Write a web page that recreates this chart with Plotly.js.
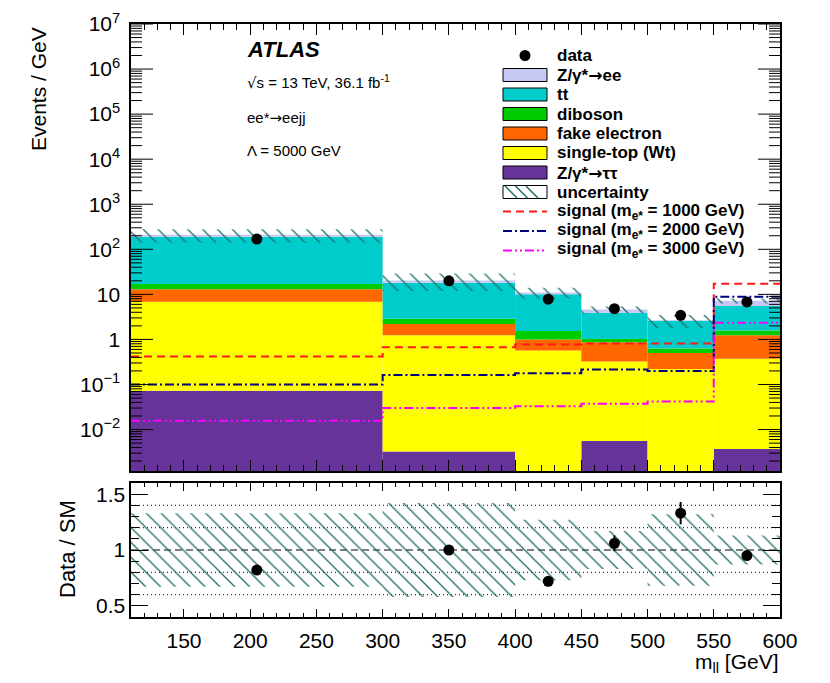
<!DOCTYPE html>
<html>
<head>
<meta charset="utf-8">
<script src="https://cdn.plot.ly/plotly-3.0.1.min.js"></script>
<style>
  body { margin: 0; background: #fff; }
  #plot { width: 830px; height: 683px; }
</style>
</head>
<body>
<div id="plot"></div>
<script>
// ── values (Events / GeV) ──────────────────────────────────────────────────
const binEdges  = [110, 300, 400, 450, 500, 550, 600];
const zTauTau   = [0.073, 0.00325, 0, 0.0056, 0, 0.0037];
const singleTop = [6.8, 1.23, 0.57, 0.32, 0.22, 0.37];
const fakeEl    = [6.1, 0.96, 0.43, 0.54, 0.28, 0.86];
const diboson   = [4.0, 0.69, 0.53, 0.16, 0.13, 0.35];
const ttbar     = [173, 15.3, 8.5, 2.87, 1.97, 3.92];
const zee       = [20, 2.2, 1.0, 0.7, 0.05, 1.7];
const relUnc    = [0.33, 0.42, 0.27, 0.17, 0.32, 0.13];

const dataY     = [169, 20, 7.8, 4.8, 3.43, 6.8];
const dataErr   = [1.0, 0.45, 0.4, 0.32, 0.27, 0.37];
const ratioY    = [0.82, 1.0, 0.72, 1.06, 1.33, 0.95];
const ratioErr  = [0.005, 0.01, 0.03, 0.07, 0.10, 0.04];

const sig1000   = [0.42, 0.67, 0.77, 0.81, 0.81, 17.3];
const sig2000   = [0.10, 0.163, 0.178, 0.215, 0.20, 8.9];
const sig3000   = [0.0157, 0.030, 0.0327, 0.0375, 0.042, 2.35];

// ── helpers ────────────────────────────────────────────────────────────────
const FONT = 'Liberation Sans, Arial, Helvetica, sans-serif';
const HATCH = '#1b6e68';
const ARROW = '<span style="font-family:DejaVu Sans">→</span>';
const X_RANGE = [110, 600];
const Y_LOG_RANGE = [-2.92, 7];
const centers = binEdges.slice(0, -1).map((e, i) => (e + binEdges[i + 1]) / 2);
const widths  = binEdges.slice(0, -1).map((e, i) => binEdges[i + 1] - e);

// frame of the plot in page pixels, used for paper coords of the legend/text
const L = 131, R = 780, T = 24, B = 617;
const px = x => (x - L) / (R - L);
const py = y => (B - y) / (B - T);

const stack = [
  {name: 'Z/γ*' + ARROW + 'ττ',  vals: zTauTau,   color: '#663399'},
  {name: 'single-top (Wt)',      vals: singleTop, color: '#ffff00'},
  {name: 'fake electron',        vals: fakeEl,    color: '#ff6600'},
  {name: 'diboson',              vals: diboson,   color: '#00cc00'},
  {name: 'tt',                   vals: ttbar,     color: '#00cccc'},
  {name: 'Z/γ*' + ARROW + 'ee',  vals: zee,       color: '#c8c8f5'},
];

const signals = [
  {name: 'signal (m<sub>e*</sub> = 1000 GeV)', vals: sig1000, color: '#ff1a1a', dash: '8px,5px'},
  {name: 'signal (m<sub>e*</sub> = 2000 GeV)', vals: sig2000, color: '#000080', dash: '9px,3px,2px,3px'},
  {name: 'signal (m<sub>e*</sub> = 3000 GeV)', vals: sig3000, color: '#ff00ff', dash: '9px,3px,2px,3px,2px,3px'},
];

// ── traces ─────────────────────────────────────────────────────────────────
const traces = [];
let below = centers.map(() => 0);
stack.forEach(s => {
  traces.push({type: 'bar', x: centers, width: widths, base: below.slice(), y: s.vals,
    marker: {color: s.color, line: {width: 0}}, xaxis: 'x', yaxis: 'y',
    showlegend: false, hoverinfo: 'skip'});
  below = below.map((b, i) => b + s.vals[i]);
});
const total = below;

const pattern = {shape: '\\', fgcolor: HATCH, bgcolor: 'rgba(0,0,0,0)', size: 10.5, solidity: 0.12};
traces.push({type: 'bar', x: centers, width: widths,
  base: total.map((t, i) => t * (1 - relUnc[i])), y: total.map((t, i) => 2 * t * relUnc[i]),
  marker: {color: 'rgba(0,0,0,0)', line: {width: 0}, pattern}, xaxis: 'x', yaxis: 'y',
  showlegend: false, hoverinfo: 'skip'});

signals.forEach(s => {
  traces.push({type: 'scatter', mode: 'lines', x: binEdges, y: s.vals.concat(s.vals.slice(-1)),
    line: {shape: 'hv', color: s.color, width: 2, dash: s.dash}, xaxis: 'x', yaxis: 'y',
    showlegend: false, hoverinfo: 'skip'});
});

traces.push({type: 'scatter', mode: 'markers', x: centers, y: dataY,
  error_y: {type: 'data', array: dataErr, color: 'black', thickness: 2, width: 0},
  marker: {color: 'black', size: 11}, xaxis: 'x', yaxis: 'y', showlegend: false});

// ratio panel
traces.push({type: 'bar', x: centers, width: widths,
  base: relUnc.map(u => 1 - u), y: relUnc.map(u => 2 * u),
  marker: {color: 'rgba(0,0,0,0)', line: {width: 0}, pattern}, xaxis: 'x2', yaxis: 'y2',
  showlegend: false, hoverinfo: 'skip'});
traces.push({type: 'scatter', mode: 'markers', x: centers, y: ratioY,
  error_y: {type: 'data', array: ratioErr, color: 'black', thickness: 2, width: 0},
  marker: {color: 'black', size: 11}, xaxis: 'x2', yaxis: 'y2', showlegend: false});

// ── log-axis ticks: labels on decades, tick marks drawn as short lines on both edges
const logTickVals = [], logTickText = [];
const tickX = [], tickY = [];
const gevPerPx = (X_RANGE[1] - X_RANGE[0]) / (R - L);
for (let d = -3; d <= 7; d++) {
  for (let m = 1; m <= 9; m++) {
    const v = m * Math.pow(10, d);
    if (Math.log10(v) < Y_LOG_RANGE[0] || Math.log10(v) > Y_LOG_RANGE[1] + 1e-9) continue;
    const major = m === 1;
    if (major) {
      logTickVals.push(v);
      logTickText.push(d === 0 ? '1' : d === 1 ? '10' : '10<sup>' + String(d).replace('-', '\u2212') + '</sup>');
    }
    const len = (major ? 22 : 11) * gevPerPx;
    tickX.push(X_RANGE[0], X_RANGE[0] + len, null, X_RANGE[1] - len, X_RANGE[1], null);
    tickY.push(v, v, null, v, v, null);
  }
}
traces.push({type: 'scatter', mode: 'lines', x: tickX, y: tickY, connectgaps: false,
  line: {color: 'black', width: 1}, xaxis: 'x', yaxis: 'y', showlegend: false, hoverinfo: 'skip'});

// ── reference lines in the ratio panel ──────────────────────────────────────
const shapes = [0.6, 0.8, 1.2, 1.4].map(v => ({type: 'line', xref: 'x2 domain', yref: 'y2',
  x0: 0, x1: 1, y0: v, y1: v, layer: 'below', line: {color: '#333', width: 1.3, dash: '1px,3px'}}));
shapes.push({type: 'line', xref: 'x2 domain', yref: 'y2', x0: 0, x1: 1, y0: 1, y1: 1,
  layer: 'below', line: {color: '#555', width: 1.5, dash: '7px,4px'}});

// ── legend, drawn by hand to get ROOT-like boxes ────────────────────────────
const rowY = i => 55.5 + 19.5 * i;
const swL = 503, swR = 547, textX = 555;
const annotations = [];
const legendRows = [{name: 'data'}]
  .concat(stack.slice().reverse())
  .concat([{name: 'uncertainty'}])
  .concat(signals);

legendRows.forEach((row, i) => {
  const y = rowY(i);
  annotations.push({xref: 'paper', yref: 'paper', x: px(textX), y: py(y), xanchor: 'left', yanchor: 'middle',
    text: '<b>' + row.name + '</b>', showarrow: false, font: {family: FONT, size: 17, color: 'black'}});
  if (i === 0) {
    shapes.push({type: 'circle', xref: 'paper', yref: 'paper', x0: px(519.5), x1: px(530.5),
      y0: py(y + 5.5), y1: py(y - 5.5), fillcolor: 'black', line: {width: 0}});
  } else if (row.dash) {
    shapes.push({type: 'line', xref: 'paper', yref: 'paper', x0: px(swL), x1: px(swR), y0: py(y), y1: py(y),
      line: {color: row.color, width: 2, dash: row.dash}});
  } else {
    shapes.push({type: 'rect', xref: 'paper', yref: 'paper', x0: px(swL), x1: px(swR),
      y0: py(y + 6.5), y1: py(y - 6.5), fillcolor: row.color || 'white', line: {color: 'black', width: 1}});
    if (!row.color) {
      for (let x = swL + 2; x + 13 <= swR + 1; x += 10.5) {
        shapes.push({type: 'line', xref: 'paper', yref: 'paper', x0: px(x), x1: px(x + 12),
          y0: py(y - 6), y1: py(y + 6), line: {color: HATCH, width: 1.5}});
      }
    }
  }
});

// ── labels ─────────────────────────────────────────────────────────────────
const note = (x, y, text, size, extra) => Object.assign({xref: 'paper', yref: 'paper',
  x: px(x), y: py(y), text, showarrow: false, xanchor: 'left', yanchor: 'middle',
  font: {family: FONT, size, color: 'black'}}, extra || {});
annotations.push(
  note(245, 49, '<b><i>ATLAS</i></b>', 22),
  note(245, 82, '<span style="font-family:DejaVu Sans">√</span>s = 13 TeV, 36.1 fb<sup>-1</sup>', 15),
  note(245, 118, 'ee*' + ARROW + 'eejj', 15),
  note(245, 150, 'Λ = 5000 GeV', 15),
  note(39, 89, 'Events / GeV', 21, {textangle: -90, xanchor: 'center'}),
  note(67, 549, 'Data / SM', 22, {textangle: -90, xanchor: 'center'}),
  note(781, 663, 'm<sub>ll</sub> [GeV]', 21, {xanchor: 'right'})
);

// ── axes ───────────────────────────────────────────────────────────────────
const frame = {showline: true, linecolor: 'black', linewidth: 1.6, mirror: 'allticks',
  ticks: 'inside', tickcolor: 'black', tickwidth: 1, showgrid: false, zeroline: false};
const tickFont = {family: FONT, size: 21, color: 'black'};

const layout = {
  width: 830, height: 683,
  margin: {l: L, r: 830 - R, t: T, b: 683 - B},
  paper_bgcolor: 'white', plot_bgcolor: 'white',
  barmode: 'overlay', showlegend: false,
  font: {family: FONT, color: 'black'},
  xaxis: Object.assign({}, frame, {domain: [0, 1], anchor: 'y', range: X_RANGE,
    tick0: 0, dtick: 50, ticklen: 11, showticklabels: false,
    minor: {ticks: 'inside', ticklen: 6, dtick: 10, tickcolor: 'black'}}),
  yaxis: Object.assign({}, frame, {domain: [py(471), 1], anchor: 'x', type: 'log',
    range: Y_LOG_RANGE, tickmode: 'array', tickvals: logTickVals, ticktext: logTickText,
    ticks: '', mirror: true, ticklabelstandoff: 5, tickfont: tickFont}),
  xaxis2: Object.assign({}, frame, {domain: [0, 1], anchor: 'y2', range: X_RANGE,
    tick0: 0, dtick: 50, ticklen: 8, tickfont: tickFont, ticklabelstandoff: 4,
    minor: {ticks: 'inside', ticklen: 4, dtick: 10, tickcolor: 'black'}}),
  yaxis2: Object.assign({}, frame, {domain: [0, py(483)], anchor: 'x2',
    range: [0.4, 1.6], tick0: 0, dtick: 0.5, ticklen: 17, tickfont: tickFont,
    minor: {ticks: 'inside', ticklen: 8, dtick: 0.1, tickcolor: 'black'}}),
  shapes, annotations,
};

Plotly.newPlot('plot', traces, layout, {displayModeBar: false, staticPlot: true});
</script>
</body>
</html>
